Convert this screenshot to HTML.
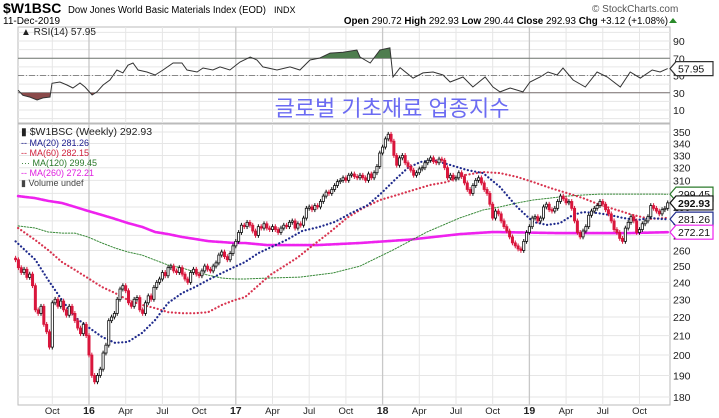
<!DOCTYPE html>
<html><head><meta charset="utf-8"><style>
html,body{margin:0;padding:0;background:#fff;}
svg{display:block;font-family:"Liberation Sans",sans-serif;}
</style></head><body>
<svg id="chart" width="719" height="418" viewBox="0 0 719 418" xmlns="http://www.w3.org/2000/svg">
<g>
<text x="3" y="13" font-size="14" font-weight="bold" fill="#000">$W1BSC</text>
<text x="68" y="13" font-size="10" fill="#000" textLength="198" lengthAdjust="spacingAndGlyphs">Dow Jones World Basic Materials Index (EOD)</text>
<text x="274" y="13" font-size="9" fill="#000">INDX</text>
<text x="3" y="24" font-size="10" fill="#000">11-Dec-2019</text>
<text x="592" y="12" font-size="10" fill="#555">© StockCharts.com</text>
<text x="668" y="24" font-size="9.8" text-anchor="end" fill="#000"><tspan font-weight="bold">Open</tspan> 290.72 <tspan font-weight="bold">High</tspan> 292.93 <tspan font-weight="bold">Low</tspan> 290.44 <tspan font-weight="bold">Close</tspan> 292.93 <tspan font-weight="bold">Chg</tspan> +3.12 (+1.08%)</text>
<path d="M669 23 L677 23 L673 18 Z" fill="#2a8a2a"/>
</g>
<g id="grid"></g>
<g id="rsi"></g>
<text x="392" y="116" font-size="22" text-anchor="middle" fill="#6b6bf2" font-family="'Liberation Sans','Noto Sans CJK KR',sans-serif">글로벌 기초재료 업종지수</text>
<g id="price"></g>
<g id="legend">
<text x="21" y="135" font-size="10.5" fill="#222">▮ $W1BSC (Weekly) 292.93</text>
<text x="21" y="146" font-size="9" fill="#1a1a8c">-- MA(20) 281.26</text>
<text x="21" y="156" font-size="9" fill="#d0213d">-- MA(60) 282.15</text>
<text x="21" y="166" font-size="9" fill="#2b7a2b">··· MA(120) 299.45</text>
<text x="21" y="176" font-size="9" fill="#e020e0">-- MA(260) 272.21</text>
<text x="21" y="186" font-size="9" fill="#444">▮ Volume undef</text>
<text x="21" y="35" font-size="10" fill="#222">▲ RSI(14) 57.95</text>
</g>
</svg>
<script>
const closes=[254,249,246,248,243,245,238,224,222,226,216,212,204,228,230,226,229,224,221,226,222,218,214,211,216,210,200,190,187,190,193,201,205,218,220,222,230,236,238,235,228,226,230,231,224,222,228,232,230,237,240,242,246,244,249,250,247,246,249,245,242,240,246,248,245,244,247,250,248,247,250,252,257,259,256,254,258,263,266,272,277,276,279,277,273,270,276,275,278,275,274,276,274,272,275,277,276,279,280,275,278,277,282,289,290,288,291,290,294,298,301,300,303,306,309,310,312,310,314,315,313,312,314,312,310,315,312,316,321,332,337,344,348,342,330,322,328,330,324,321,318,314,316,319,320,324,326,328,325,324,327,326,320,312,314,311,312,316,313,308,303,300,306,310,312,308,303,300,292,282,287,285,280,276,273,269,265,263,261,260,266,272,276,282,283,280,282,290,292,288,287,289,294,298,296,293,294,289,280,272,269,273,276,284,287,289,291,294,292,288,285,280,274,272,268,266,275,279,283,280,272,274,278,280,283,291,289,287,285,288,289,293];
const firstOpen=255;
const ma20Weeks=[0,7,11.5,16.4,21,25.6,30.6,35.2,39.8,44.8,49.4,54,59,63.6,68.2,73.1,77.5,81.3,86,96,101.5,107.6,113.1,118.9,124.8,129.6,134.3,138.9,143.5,148,153.9,159.9,165.6,171.6,177.6,183.3,188.2,192.8,197.4,201,205.9,210.5,215.1,220.1,224.7,229.3,231];
const ma20=[266,254,241.5,229.6,220,214.6,209.3,206.2,206.7,211.4,218.3,227.9,233.7,237.2,241.5,245.7,249.4,252.6,258.3,267,273,275.8,279.3,285.6,291.4,300.3,310.3,319.8,324.7,326.2,322.3,318.2,315.7,304.9,290,279.3,277.2,278.4,284.2,286.3,285.6,284.2,282.1,280.6,282.1,281.3,281.26];
const ma60Weeks=[0.9,6.9,11.5,16.4,21,25.6,30.6,35.2,39.8,44.8,49.4,54,59,63.6,68.2,73.1,77.7,81.3,90.1,99.7,105.4,111.4,117.4,123.1,129.1,135.1,140.8,146.8,152.8,157.4,165.6,171.6,177.6,183.3,189.3,195.3,201,207,213,218.7,224.7,231];
const ma60=[275.1,267,260.3,252.6,247.6,242.6,237.2,233.7,229.6,226.8,225,222.7,222.1,222.1,222.7,226.8,229.6,231.3,244.4,255.2,263.5,272.3,282.1,289.2,295.1,298.8,302.5,306.4,308.7,313.5,316.6,315.7,312.7,308.7,304.2,300.3,296.5,291.5,287.8,284.2,281.4,282.15];
const ma120Weeks=[0.9,6.9,11.5,16.4,21,25.6,30.6,35.2,39.8,44.8,49.4,54,59,63.6,68.2,73.1,77.7,81.3,89.1,100.7,112.4,122,133.7,145.7,157.4,165.6,171.6,177.6,183.3,189.3,195.3,201,207,218.7,231];
const ma120=[276.5,275.1,272.3,271.6,271.6,268.9,264.9,261.6,259,257,253.8,250.7,248.8,246.3,244.4,242.6,242,242,242.6,243.2,245.7,250,260.3,272.3,282.1,287.8,290,292.9,295.1,296.5,298,298.8,299.5,299.5,299.45];
const ma260Weeks=[0.9,6.9,11.5,16.4,21,25.6,30.6,35.2,39.8,44.8,49.4,54,59,63.6,68.2,73.1,77.7,81.3,89.1,106.8,122,139.7,157.4,169.1,192.8,216.6,231];
const ma260=[298,296.5,294.4,292.9,290,287.1,284.2,281.4,278.5,275.8,272.3,270.9,268.9,267.6,266.2,265.5,264.9,264.9,263.5,263.5,264.9,267.2,270.9,272.3,271.6,271.6,272.21];
const rsiWeeks=[0.9,2.6,5.1,7.6,9.7,12.2,12.9,15.7,18.2,20.3,22.8,24.6,27.1,28.8,31,33.4,35.9,38,39.8,41.6,43.4,46.5,49.4,52.2,55.8,58.9,60.7,64.3,66.4,69.9,72.4,75.9,79.5,83.1,85.5,87.6,92.6,97.2,100.7,104.3,107.8,111.4,116,120.9,122,125.6,129.1,132.6,133.7,136.2,140.8,144.3,147.9,151.4,153.9,158.5,162,166.3,169.1,171.6,175.2,179.7,182.2,185.8,188.6,191.8,193.9,197.5,201.8,206,209.6,214.2,217.7,221.3,225.5,228.3,231];
const rsi=[33,27,25,21.6,24,25,41,42.5,39,35.5,41.3,36.7,27.4,31,39,44.8,56.4,53,62,64.5,56.4,54,50.6,56.4,64.5,64.5,56.4,54,58.7,56.4,60,56.4,65.7,71.4,68,60,56.4,60,56.4,68,70.3,76,77,79.6,71.4,64.5,79.6,82,48.3,59,47,53,54,50.6,42.5,48.3,36.7,48.3,36.7,31,35.5,31,42.5,48.3,54,50.6,58.7,44.8,36.7,54,48.3,36.7,54,47,56.4,54,57.95];
const priceTicks=[180,190,200,210,220,230,240,250,260,270,280,290,300,310,320,330,340,350];
const rsiTicks=[10,30,50,70,90];
const xLabels=["Oct","16","Apr","Jul","Oct","17","Apr","Jul","Oct","18","Apr","Jul","Oct","19","Apr","Jul","Oct"];
const xLabelWeeks=[13,26,39,52,65,78,91,104,117,130,143,156,169,182,195,208,221];

const NS="http://www.w3.org/2000/svg";
const L=18,R=670,RT=27,RB=123,PT=124,PB=405;
const xw=i=>15.6+i*2.823;
const yp=v=>132+398.5*Math.log(350/v);
const yr=v=>41+(90-v)*0.8625;
function mk(tag,attrs,parent){const e=document.createElementNS(NS,tag);for(const k in attrs)e.setAttribute(k,attrs[k]);parent.appendChild(e);return e;}
const grid=document.getElementById('grid'),rsiG=document.getElementById('rsi'),priceG=document.getElementById('price');

let e=mk('rect',{x:L,y:RT,width:R-L,height:RB-RT,fill:'#fff',stroke:'#bbb','stroke-width':1},grid);


e=mk('rect',{x:L,y:PT,width:R-L,height:PB-PT,fill:'#fff',stroke:'#bbb','stroke-width':1},grid);



for(let v=0;v<=100;v+=10){const y=yr(v);if(y<RT+1||y>RB-1)continue;
 e=mk('line',{x1:L,x2:R,y1:y,y2:y,stroke:'#e6e6e6','stroke-width':1},grid);
 
 }
priceTicks.forEach(v=>{const y=yp(v);
 e=mk('line',{x1:L,x2:R,y1:y,y2:y,stroke:'#e6e6e6','stroke-width':1},grid);
 
 
 e=mk('text',{x:673,y:y+4,'font-size':10.5,fill:'#222'},grid);e.textContent=v;
 
 });
rsiTicks.forEach(v=>{const y=yr(v);
 e=mk('text',{x:673,y:y+4,'font-size':10.5,fill:'#222'},grid);e.textContent=v;
 
 });
xLabels.forEach((t,k)=>{const x=xw(xLabelWeeks[k]);const yr_=/^\d/.test(t);
 [[RT,RB],[PT,PB]].forEach(([a,b])=>{e=mk('line',{x1:x,x2:x,y1:a,y2:b,stroke:yr_?'#c8c8c8':'#e6e6e6','stroke-width':yr_?1.3:1},grid);
 
 });
 e=mk('text',{x:x,y:414,'font-size':yr_?10.5:9.5,'font-weight':yr_?'bold':'normal','text-anchor':'middle',fill:'#222'},grid);e.textContent=t;
 
 });

e=mk('line',{x1:L,x2:R,y1:yr(70),y2:yr(70),stroke:'#777','stroke-width':1},rsiG);


e=mk('line',{x1:L,x2:R,y1:yr(30),y2:yr(30),stroke:'#777','stroke-width':1},rsiG);


e=mk('line',{x1:L,x2:R,y1:yr(50),y2:yr(50),stroke:'#888','stroke-width':1,'stroke-dasharray':'6 2 1 2'},rsiG);


const rpts=rsiWeeks.map((w,k)=>[xw(w),yr(rsi[k])]);
const rstr=rpts.map(p=>p[0].toFixed(1)+','+p[1].toFixed(1)).join(' ');
const defs=mk('defs',{},rsiG);
const c1=mk('clipPath',{id:'above70'},defs);mk('rect',{x:0,y:0,width:719,height:yr(70)},c1);
const c2=mk('clipPath',{id:'below30'},defs);mk('rect',{x:0,y:yr(30),width:719,height:100},c2);
const x0=rpts[0][0],x1=rpts[rpts.length-1][0];
e=mk('polygon',{points:rstr+' '+x1+','+yr(70)+' '+x0+','+yr(70),fill:'#4e7d4e','clip-path':'url(#above70)'},rsiG);


e=mk('polygon',{points:rstr+' '+x1+','+yr(30)+' '+x0+','+yr(30),fill:'#8a4a4a','clip-path':'url(#below30)'},rsiG);


e=mk('polyline',{points:rstr,fill:'none',stroke:'#333','stroke-width':1},rsiG);



function tag(g,y,txt,col,name,bold){
 const p=mk('path',{d:`M670 ${y} L676 ${y-7} L713 ${y-7} L713 ${y+7} L676 ${y+7} Z`,fill:'#fff',stroke:col,'stroke-width':1.2},g);
 
 
 const t=mk('text',{x:678,y:y+4,'font-size':10.5,'font-weight':bold?'bold':'normal',fill:'#111'},g);t.textContent=txt;
 
 }
tag(rsiG,yr(rsi[rsi.length-1]),'57.95','#333','rsi-value-tag');

function ma(weeks,vals,col,w,dash,name){
 const pts=weeks.map((wk,k)=>xw(wk).toFixed(1)+','+yp(vals[k]).toFixed(1)).join(' ');
 const pl=mk('polyline',{points:pts,fill:'none',stroke:col,'stroke-width':w,'stroke-dasharray':dash,'stroke-linecap':'round'},priceG);
 
 }
ma(ma260Weeks,ma260,'#ee22ee',2.6,'3 1','ma260-line');
ma(ma120Weeks,ma120,'#3a8a3a',1,'1.5 1.5','ma120-line');
ma(ma60Weeks,ma60,'#d8344f',2.2,'0.1 3.6','ma60-line');
ma(ma20Weeks,ma20,'#1f2a8c',2.2,'0.1 3.6','ma20-line');

let prev=firstOpen;
closes.forEach((c,i)=>{
 const o=prev;const x=xw(i);const hi=Math.max(o,c)*1.006,lo=Math.min(o,c)*0.994;
 const down=c<o;const col=down?'#d9163c':'#111';
 const wk=mk('line',{x1:x,x2:x,y1:yp(hi),y2:yp(lo),stroke:col,'stroke-width':1},priceG);
 
 
 const yt=yp(Math.max(o,c)),yb=yp(Math.min(o,c));
 const b=mk('rect',{x:x-1.1,y:yt,width:2.2,height:Math.max(1,yb-yt),fill:down?'#d9163c':'#fff',stroke:col,'stroke-width':0.8},priceG);
 
 
 prev=c;});

tag(priceG,yp(299.45),'299.45','#2b7a2b','ma120-value-tag');
tag(priceG,yp(292.93),'292.93','#111','price-value-tag',true);
tag(priceG,yp(281.26),'281.26','#1f2a8c','ma20-value-tag');
tag(priceG,yp(272.21),'272.21','#ee22ee','ma260-value-tag');
</script>
</body></html>
